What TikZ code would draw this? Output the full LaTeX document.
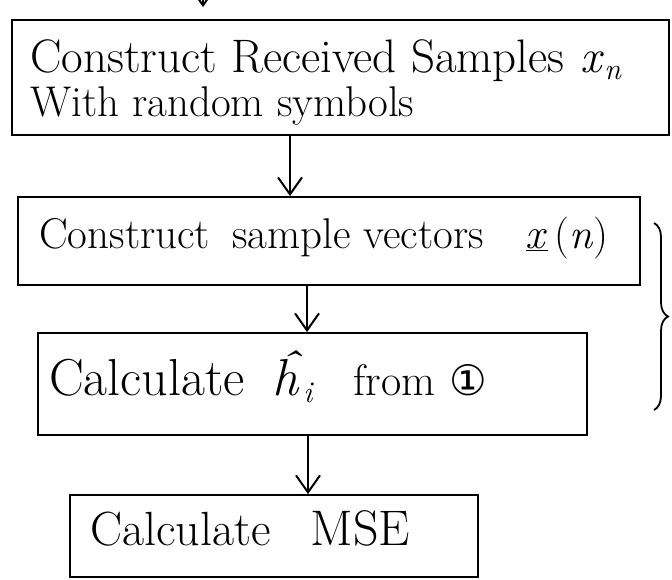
\documentclass[tikz,border=0pt]{standalone}
\usepackage{fontspec}
\newfontfamily\dejavu{DejaVu Sans}
\usetikzlibrary{arrows.meta,decorations.pathreplacing,calc}
\newcommand{\subtxt}[1]{\raisebox{-7pt}{\fontsize{30}{30}\selectfont\textit{#1}}}
\begin{document}
\begin{tikzpicture}[x=1pt,y=-1pt,
  box/.style={draw=black, line width=1.8pt, inner sep=0pt},
  txt/.style={anchor=base west, inner sep=0pt},
  arr/.style={line width=2pt, -{Straight Barb[length=17pt,width=24pt,line width=2pt]}},
  bracestyle/.style={line width=1.8pt, decorate, decoration={brace, amplitude=14pt}}]
\fill[white] (0,0) rectangle (672,580);
\useasboundingbox (0,0) rectangle (672,580);

\node[box, minimum width=657pt, minimum height=115pt] (b1) at (340.5,77.5) {};
\node[box, minimum width=622pt, minimum height=88pt] (b2) at (329,241) {};
\node[box, minimum width=549pt, minimum height=102pt] (b3) at (312.5,384) {};
\node[box, minimum width=408pt, minimum height=82pt] (b4) at (274,536) {};

\node[txt, font=\fontsize{47}{49}\selectfont] (t1a) at (30,73) {Construct Received Samples\hspace{16pt}\textit{x}\subtxt{n}};
\node[txt, font=\fontsize{43}{45}\selectfont] (t1b) at (30,117) {With random symbols};
\node[txt, font=\fontsize{43}{45}\selectfont] (t2) at (39,248) {Construct\hspace{22pt}sample vectors\hspace{42pt}\underline{\textit{x}}\,{\fontsize{42}{42}\selectfont(\textit{n})}};
\node[txt, font=\fontsize{52}{54}\selectfont] (t3) at (49,395) {Calculate\hspace{28pt}\textit{\^h}\subtxt{i}\hspace{40pt}{\fontsize{44}{44}\selectfont from}\hspace{14pt}{\dejavu\fontsize{42}{42}\selectfont ①}};
\node[txt, font=\fontsize{48}{50}\selectfont] (t4) at (90,545) {Calculate\hspace{40pt}{\fontsize{50}{50}\selectfont MSE}};

\coordinate (in) at (203,-14);
\draw[arr, shorten >=12pt] (in) -- ([xshift=-137.5pt]b1.north);
\draw[arr] ([xshift=-50.5pt]b1.south) -- ([xshift=-39pt]b2.north);
\draw[arr] ([xshift=-22pt]b2.south) -- ([xshift=-5.5pt]b3.north);
\draw[arr] ([xshift=-4.5pt]b3.south) -- ([xshift=34pt]b4.north);

\draw[bracestyle] (654,223) -- (654,410);
\end{tikzpicture}
\end{document}
